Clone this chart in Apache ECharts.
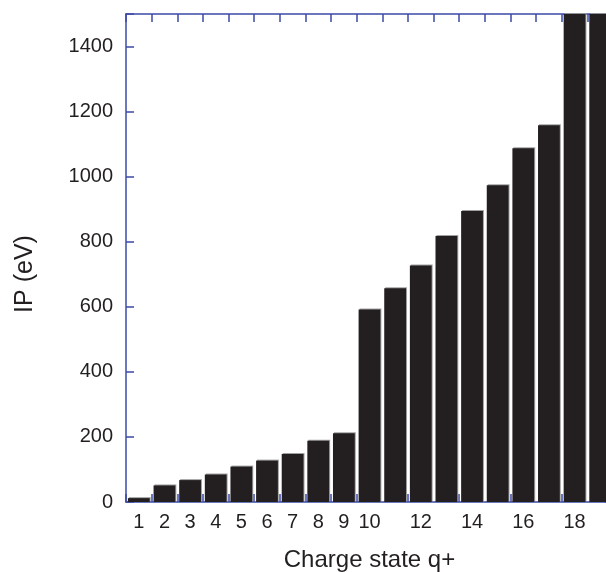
<!DOCTYPE html>
<html>
<head>
<meta charset="utf-8">
<script src="https://cdn.jsdelivr.net/npm/echarts@6/dist/echarts.min.js"></script>
<style>
  html, body { margin: 0; padding: 0; background: #fff; }
  #chart { width: 606px; height: 572px; }
</style>
</head>
<body>
<div id="chart"></div>
<script>
// Ionization potential (eV) needed to go from charge state q+ to (q+1)+
const chargeStates = ['1','2','3','4','5','6','7','8','9','10','11','12','13','14','15','16','17','18','19'];
const ipValues = [11.9, 50.9, 67.3, 84.5, 108.8, 127.2, 147.2, 188.5, 211.3, 591.9, 657.2, 726.6, 817.6, 894.5, 974, 1087, 1157.8, 5128.8, 5469.9];
const yTickValues = [0, 200, 400, 600, 800, 1000, 1200, 1400];

const axisBlue = '#3d4aa8';
const font = '"Liberation Sans", Arial, Helvetica, sans-serif';

const chart = echarts.init(document.getElementById('chart'), null, { renderer: 'canvas' });

// every charge state up to 10, then only the even ones
const shownX = (idx) => idx < 10 || (idx + 1) % 2 === 0;

const frameLine = { show: true, onZero: false, lineStyle: { color: axisBlue, width: 1.5 } };
const frameTick = { show: true, inside: true, length: 8, lineStyle: { color: axisBlue, width: 1.5 } };

chart.setOption({
  animation: false,
  backgroundColor: '#fff',
  grid: { left: 126, right: -7, top: 14, bottom: 70, containLabel: false, outerBoundsMode: 'none' },
  xAxis: [
    {
      type: 'category',
      data: chargeStates,
      position: 'bottom',
      name: 'Charge state q+',
      nameLocation: 'middle',
      nameGap: 46,
      nameTextStyle: { fontFamily: font, fontSize: 24, color: '#231f20' },
      axisLine: frameLine,
      axisTick: frameTick,
      axisLabel: {
        interval: (idx) => shownX(idx),
        margin: 10,
        fontFamily: font,
        fontSize: 20,
        color: '#231f20'
      },
      splitLine: { show: false }
    },
    {
      type: 'category',
      data: chargeStates,
      position: 'top',
      axisLine: frameLine,
      axisTick: frameTick,
      axisLabel: { show: false },
      splitLine: { show: false }
    }
  ],
  yAxis: [
    {
      type: 'value',
      min: 0,
      max: 1500,
      interval: 200,
      position: 'left',
      name: 'IP (eV)',
      nameLocation: 'middle',
      nameGap: 88,
      nameTextStyle: { fontFamily: font, fontSize: 25, color: '#231f20', padding: [0, 32, 0, 0] },
      axisLine: frameLine,
      axisTick: frameTick,
      axisLabel: {
        margin: 13,
        fontFamily: font,
        fontSize: 20,
        color: '#231f20',
        formatter: (v) => (yTickValues.indexOf(v) >= 0 ? String(v) : '')
      },
      splitLine: { show: false }
    },
    {
      type: 'value',
      min: 0,
      max: 1500,
      interval: 200,
      position: 'right',
      axisLine: frameLine,
      axisTick: frameTick,
      axisLabel: { show: false },
      splitLine: { show: false }
    }
  ],
  series: [
    {
      type: 'bar',
      data: ipValues,
      xAxisIndex: 0,
      yAxisIndex: 0,
      barWidth: '85%',
      clip: true,
      itemStyle: {
        color: '#231f20',
        shadowColor: 'rgba(150,150,150,0.9)',
        shadowBlur: 0,
        shadowOffsetX: 1,
        shadowOffsetY: -1
      }
    }
  ]
});
</script>
</body>
</html>
